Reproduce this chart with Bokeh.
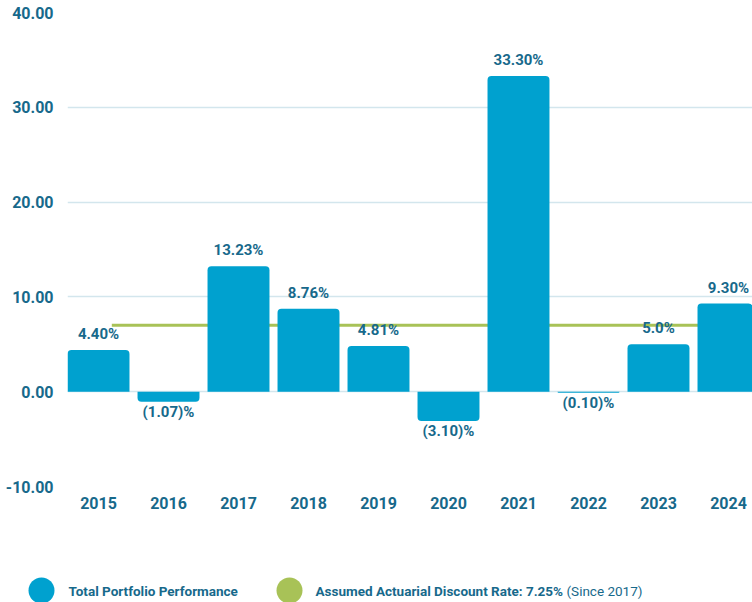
from bokeh.plotting import figure
from bokeh.models import Range1d, FixedTicker, NumeralTickFormatter, ColumnDataSource, Spacer
from bokeh.layouts import column, row
from bokeh.core.properties import value
from bokeh.embed import file_html
from bokeh.resources import INLINE

# ---- data ----
years = ["2015", "2016", "2017", "2018", "2019", "2020", "2021", "2022", "2023", "2024"]
returns = [4.40, -1.07, 13.23, 8.76, 4.81, -3.10, 33.30, -0.10, 5.0, 9.30]
return_labels = ["4.40%", "(1.07)%", "13.23%", "8.76%", "4.81%", "(3.10)%", "33.30%", "(0.10)%", "5.0%", "9.30%"]
discount_rate_label = "7.25%"
discount_rate_drawn = 7.0          # level at which the line is drawn in the picture
y_ticks = [-10, 0, 10, 20, 30, 40]
legend_labels = ["Total Portfolio Performance", "Assumed Actuarial Discount Rate: ", "(Since 2017)"]

# ---- styles ----
BAR = "#00a1cf"
GREEN = "#a8c257"
TXT = "#17698b"
GRID = "#d3e6ed"
FONT = "Roboto"

xs = list(range(len(years)))
pos = [i for i, v in enumerate(returns) if v >= 0]
neg = [i for i, v in enumerate(returns) if v < 0]
src_pos = ColumnDataSource(dict(x=[xs[i] for i in pos], top=[returns[i] for i in pos],
                                lab=[return_labels[i] for i in pos]))
src_neg = ColumnDataSource(dict(x=[xs[i] for i in neg], top=[returns[i] for i in neg],
                                lab=[return_labels[i] for i in neg]))

p = figure(width=752, height=528, x_range=Range1d(-0.443, 9.343), y_range=Range1d(y_ticks[0], y_ticks[-1]),
           output_backend="svg", toolbar_location=None,
           min_border_left=67, min_border_right=0, min_border_top=12, min_border_bottom=42)
p.outline_line_color = None
p.background_fill_color = "white"
p.border_fill_color = "white"

# discount-rate line (behind the bars)
p.line(x=[xs[0] + 0.19, xs[-1]], y=[discount_rate_drawn, discount_rate_drawn], line_color=GREEN, line_width=3)

p.vbar(x="x", top="top", bottom=0, width=0.885, source=src_pos, fill_color=BAR, line_color=None,
       border_radius=(4, 4, 0, 0))
p.vbar(x="x", top="top", bottom=0, width=0.885, source=src_neg, fill_color=BAR, line_color=None,
       border_radius=(0, 0, 4, 4))

p.text(x="x", y="top", text="lab", source=src_pos, text_align="center", text_baseline="bottom",
       y_offset=-7, text_font=value(FONT), text_font_style="bold", text_font_size="15px", text_color=TXT)
p.text(x="x", y="top", text="lab", source=src_neg, text_align="center", text_baseline="top",
       y_offset=1, text_font=value(FONT), text_font_style="bold", text_font_size="15px", text_color=TXT)

p.xgrid.grid_line_color = None
p.ygrid.grid_line_color = GRID
p.ygrid.grid_line_width = 1.5
p.ygrid.ticker = FixedTicker(ticks=y_ticks)

for ax in (p.xaxis, p.yaxis):
    ax.axis_line_color = None
    ax.major_tick_line_color = None
    ax.minor_tick_line_color = None
    ax.major_label_text_font = FONT
    ax.major_label_text_font_style = "bold"
    ax.major_label_text_font_size = "16px"
    ax.major_label_text_color = TXT

p.yaxis.ticker = FixedTicker(ticks=y_ticks)
p.yaxis.formatter = NumeralTickFormatter(format="0.00")
p.yaxis.major_label_standoff = 8
p.xaxis.ticker = FixedTicker(ticks=xs)
p.xaxis.major_label_overrides = {i: y for i, y in zip(xs, years)}
p.xaxis.major_label_standoff = 4

# ---- legend strip (offset by 1px so its frame is not aligned with the chart's) ----
lg = figure(width=751, height=74, x_range=Range1d(1, 752), y_range=Range1d(0, 74),
            output_backend="svg", toolbar_location=None, x_axis_location=None, y_axis_location=None,
            min_border_left=0, min_border_right=0, min_border_top=0, min_border_bottom=0)
lg.outline_line_color = None
lg.grid.visible = False
lg.scatter(x=[41, 289], y=[12, 12], size=26, fill_color=[BAR, GREEN], line_color=None)
lg.text(x=[68, 315], y=[12, 12], text=[legend_labels[0], legend_labels[1] + discount_rate_label],
        text_baseline="middle", text_font=value(FONT), text_font_style="bold", text_font_size="13.5px",
        text_color=TXT)
lg.text(x=[566], y=[12], text=[legend_labels[2]], text_baseline="middle", text_font=value(FONT),
        text_font_size="13.5px", text_color=TXT)

layout = column(p, row(Spacer(width=1, height=74), lg, spacing=0), spacing=0)
open("out.html", "w").write(file_html(layout, INLINE))
